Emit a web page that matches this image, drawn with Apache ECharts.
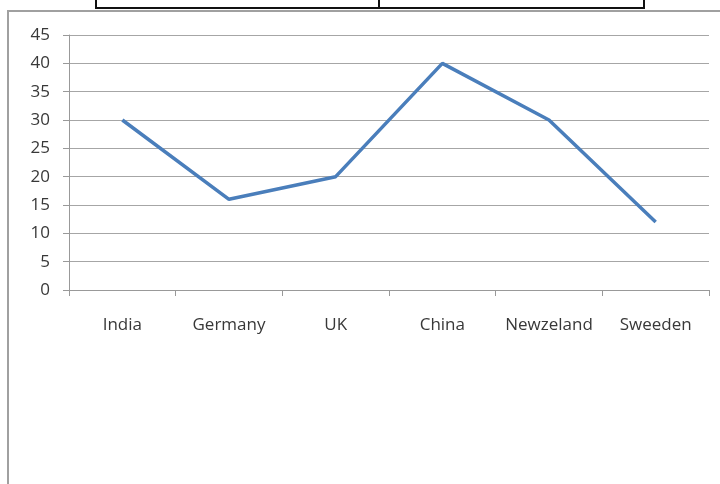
<!DOCTYPE html>
<html>
<head>
<meta charset="utf-8">
<script src="https://cdn.jsdelivr.net/npm/echarts@6/dist/echarts.min.js"></script>
<style>
  html, body { margin: 0; padding: 0; background: #ffffff; }
  #chart { width: 720px; height: 484px; }
</style>
</head>
<body>
<div id="chart"></div>
<script>
// Countries and their values
const countries = ['India', 'Germany', 'UK', 'China', 'Newzeland', 'Sweeden'];
const values = [30, 16, 20, 40, 30, 12];
const yTicks = { min: 0, max: 45, step: 5 };

const chart = echarts.init(document.getElementById('chart'), null, { renderer: 'canvas' });

const labelFont = '"Open Sans", "Liberation Sans", sans-serif';

chart.setOption({
  backgroundColor: '#ffffff',
  animation: false,
  grid: { left: 69, right: 11, top: 35, bottom: 194 },
  graphic: [
    // table row fragment above the chart
    {
      type: 'rect', silent: true,
      shape: { x: 96, y: -6, width: 548, height: 14 },
      style: { fill: '#ffffff', stroke: '#111111', lineWidth: 2 }
    },
    {
      type: 'line', silent: true,
      shape: { x1: 379, y1: -6, x2: 379, y2: 8 },
      style: { stroke: '#111111', lineWidth: 2 }
    },
    // chart frame
    {
      type: 'polyline', silent: true,
      shape: { points: [[8, 484], [8, 11], [720, 11]] },
      style: { stroke: '#a0a0a0', lineWidth: 2, fill: null }
    }
  ],
  xAxis: {
    type: 'category',
    data: countries,
    boundaryGap: true,
    axisLine: { show: true, lineStyle: { color: '#999999', width: 1 } },
    axisTick: { show: true, interval: 0, length: 6, lineStyle: { color: '#999999' } },
    axisLabel: { interval: 0, color: '#383838', fontSize: 17, fontFamily: labelFont, margin: 27 },
    splitLine: { show: false }
  },
  yAxis: {
    type: 'value',
    min: yTicks.min,
    max: yTicks.max,
    interval: yTicks.step,
    axisLine: { show: true, lineStyle: { color: '#999999', width: 1 } },
    axisTick: { show: true, length: 6, lineStyle: { color: '#999999' } },
    axisLabel: { color: '#383838', fontSize: 17, fontFamily: labelFont, margin: 19 },
    splitLine: { show: true, lineStyle: { color: '#a6a6a6', width: 1 } }
  },
  series: [{
    type: 'line',
    data: values,
    symbol: 'none',
    lineStyle: { color: '#4a7ebb', width: 3.5 },
    itemStyle: { color: '#4a7ebb' }
  }]
});
</script>
</body>
</html>
